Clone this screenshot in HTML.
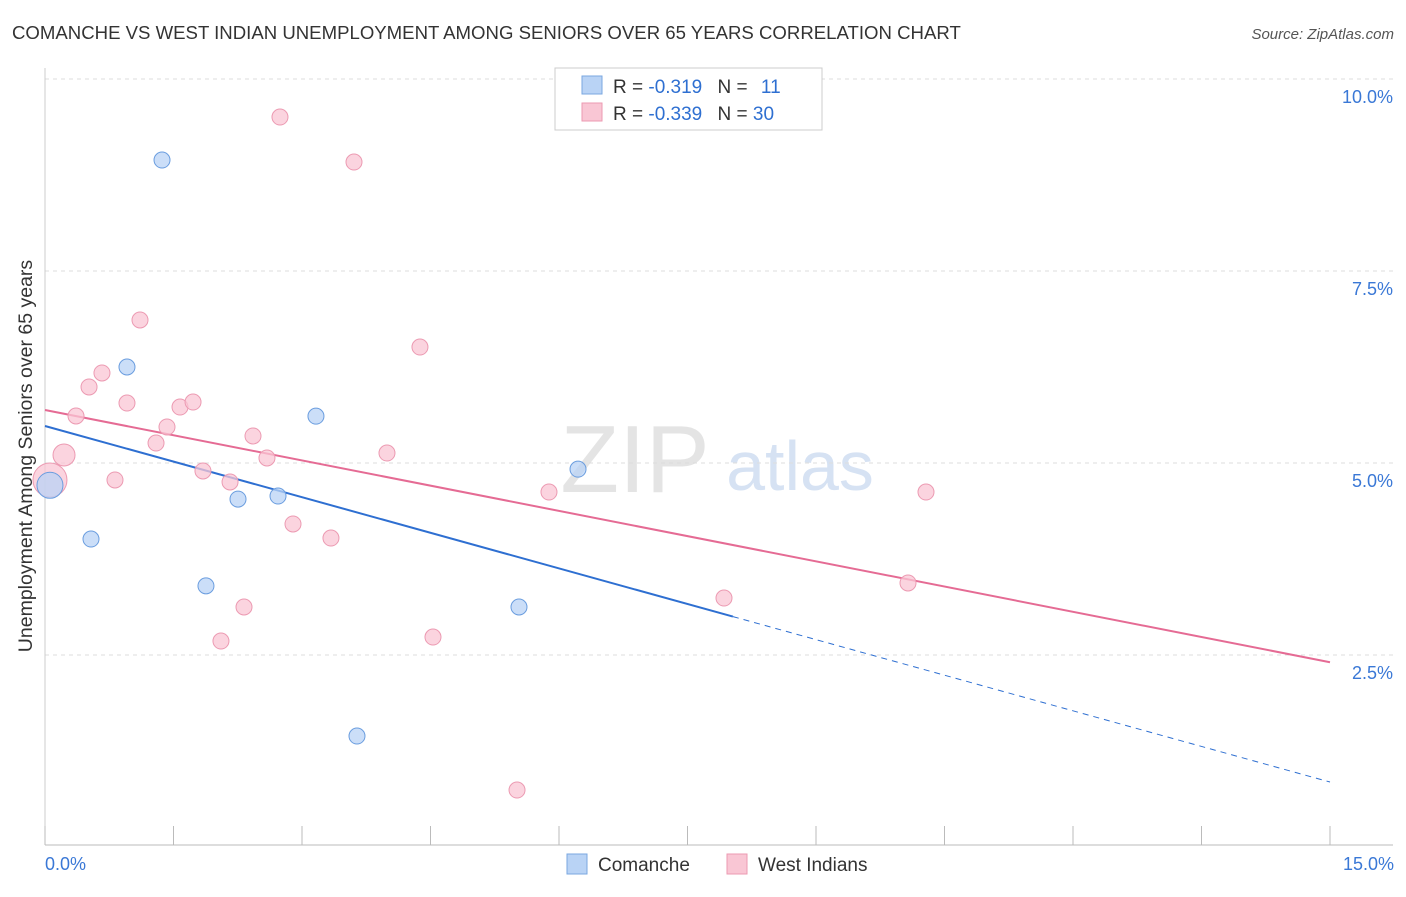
<!DOCTYPE html>
<html><head><meta charset="utf-8"><style>
body{margin:0;background:#fff;font-family:"Liberation Sans",sans-serif}
svg text{font-family:"Liberation Sans",sans-serif}
</style></head><body>
<svg id="c" width="1406" height="892" xmlns="http://www.w3.org/2000/svg">
<text x="12" y="39" font-size="18.6" fill="#333">COMANCHE VS WEST INDIAN UNEMPLOYMENT AMONG SENIORS OVER 65 YEARS CORRELATION CHART</text>
<text x="1394" y="39" font-size="15" fill="#555" font-style="italic" text-anchor="end">Source: ZipAtlas.com</text>
<text x="32" y="456" font-size="19.5" fill="#333" text-anchor="middle" transform="rotate(-90 32 456)">Unemployment Among Seniors over 65 years</text>
<text x="635" y="492" font-size="96" fill="#e4e4e4" text-anchor="middle" font-family="Liberation Serif">ZIP</text>
<text x="800" y="490" font-size="70" fill="#d6e2f3" text-anchor="middle">atlas</text>
<g id="grid"></g><g id="lines"></g><g id="pts"></g>
<rect x="555" y="68" width="267" height="62" fill="#fff" stroke="#ccc"/>
<rect x="582" y="76" width="20" height="18" fill="#b9d3f5" stroke="#7aa7e0"/>
<rect x="582" y="103" width="20" height="18" fill="#f9c6d4" stroke="#ec9ab2"/>
<text x="613" y="93" font-size="19" fill="#333">R = <tspan fill="#2e6fd1">-0.319</tspan>   <tspan dx="10">N =</tspan> <tspan fill="#2e6fd1" dx="8">11</tspan></text>
<text x="613" y="120" font-size="19" fill="#333">R = <tspan fill="#2e6fd1">-0.339</tspan>   <tspan dx="10">N =</tspan> <tspan fill="#2e6fd1">30</tspan></text>
<rect x="567" y="854" width="20" height="20" fill="#b9d3f5" stroke="#7aa7e0"/>
<text x="598" y="871" font-size="19" fill="#333">Comanche</text>
<rect x="727" y="854" width="20" height="20" fill="#f9c6d4" stroke="#ec9ab2"/>
<text x="758" y="871" font-size="19" fill="#333">West Indians</text>
<text x="45" y="870" font-size="18" fill="#3a78d6">0.0%</text>
<text x="1394" y="870" font-size="18" fill="#3a78d6" text-anchor="end">15.0%</text>
</svg>
<script>
const yTicks=[10,7.5,5,2.5];
const yTickLabels=["10.0%","7.5%","5.0%","2.5%"];
const comX=[1.366,0.957,3.163,0.058,2.253,2.72,0.537,1.879,5.533,6.222,3.642];
const comY=[8.945,6.25,5.61,4.71,4.53,4.57,4.01,3.40,3.125,4.92,1.445];
const wiX=[2.743,3.607,1.109,4.377,0.665,0.514,0.957,0.362,1.576,1.728,1.424,1.296,0.222,2.428,2.591,1.844,0.817,2.16,3.992,5.883,10.284,2.895,3.338,2.323,2.054,4.529,7.926,10.074,5.51,0.058];
const wiY=[9.505,8.919,6.862,6.51,6.172,5.99,5.781,5.612,5.729,5.794,5.469,5.26,5.104,5.352,5.065,4.896,4.779,4.753,5.13,4.622,4.622,4.206,4.023,3.125,2.682,2.734,3.242,3.438,0.742,4.779];
const comTrend=[5.482,0.846];
const wiTrend=[5.69,2.406];
const comSolidEnd=8.03;
const X=v=>45+v/15*1285, Y=v=>847-v/2.5*192;
const NS="http://www.w3.org/2000/svg";
function mk(parent,tag,attrs){const e=document.createElementNS(NS,tag);for(const k in attrs)e.setAttribute(k,attrs[k]);document.getElementById(parent).appendChild(e);return e;}
let e;
yTicks.forEach((t,i)=>{
 e=mk('grid','line',{x1:45,x2:1393,y1:Y(t),y2:Y(t),stroke:'#ddd','stroke-dasharray':'4,4'});
 
 
 e=mk('grid','text',{x:1393,y:Y(t)+24,'font-size':18,fill:'#3a78d6','text-anchor':'end'});e.textContent=yTickLabels[i];
 
 
});
e=mk('grid','line',{x1:45,x2:1393,y1:845,y2:845,stroke:'#bbb'});


e=mk('grid','line',{x1:45,x2:45,y1:68,y2:845,stroke:'#ccc'});


for(let i=0;i<=10;i++){
 e=mk('grid','line',{x1:X(i*1.5),x2:X(i*1.5),y1:826,y2:845,stroke:'#bbb'});
 
 
}
const slope=(comTrend[1]-comTrend[0])/15;
e=mk('lines','line',{x1:X(0),y1:Y(comTrend[0]),x2:X(comSolidEnd),y2:Y(comTrend[0]+slope*comSolidEnd),stroke:'#2e6fd1','stroke-width':2});


e=mk('lines','line',{x1:X(comSolidEnd),y1:Y(comTrend[0]+slope*comSolidEnd),x2:X(15),y2:Y(comTrend[1]),stroke:'#2e6fd1','stroke-width':1,'stroke-dasharray':'6,5'});


e=mk('lines','line',{x1:X(0),y1:Y(wiTrend[0]),x2:X(15),y2:Y(wiTrend[1]),stroke:'#e56b94','stroke-width':2});


wiX.forEach((v,i)=>{
 e=mk('pts','circle',{cx:X(v),cy:Y(wiY[i]),r:i==29?17:(i==12?11:8),fill:'#f9c6d4','fill-opacity':0.75,stroke:'#ec9ab2'});
 
 
});
comX.forEach((v,i)=>{
 e=mk('pts','circle',{cx:X(v),cy:Y(comY[i]),r:i==3?13:8,fill:'#b9d3f5','fill-opacity':0.75,stroke:'#6a9ddf'});
 
 
});
</script>
</body></html>
